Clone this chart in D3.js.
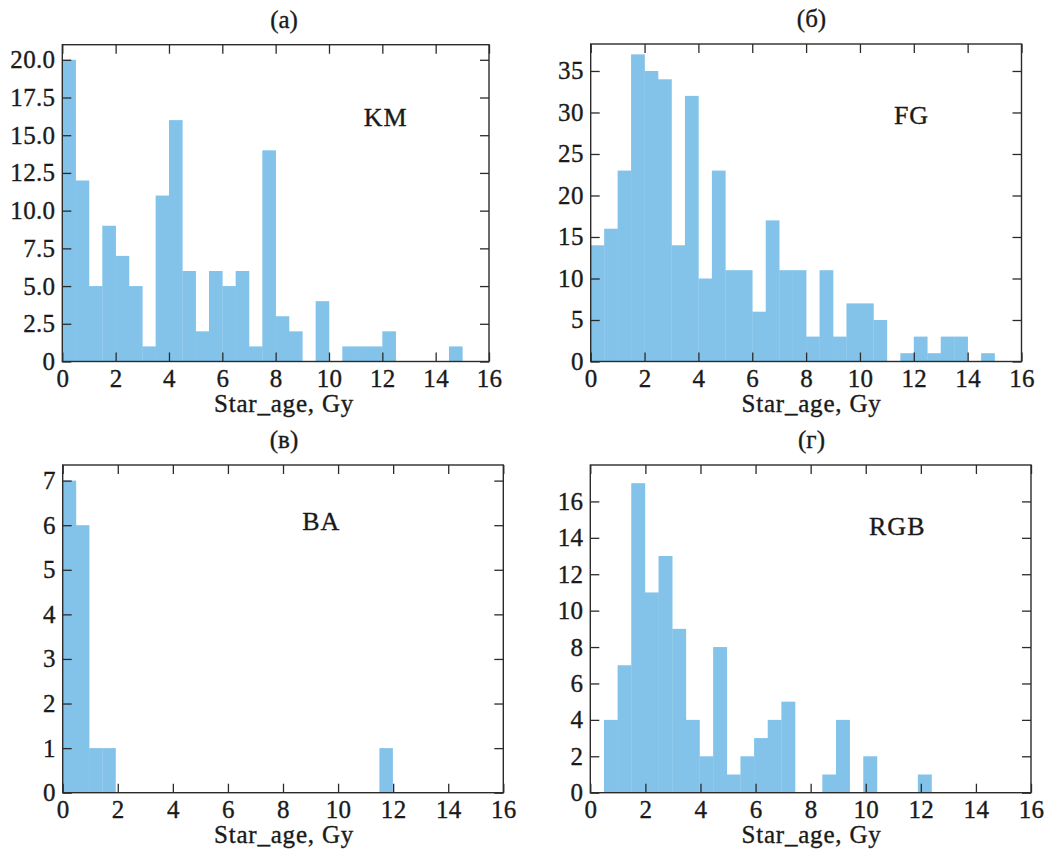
<!DOCTYPE html>
<html>
<head>
<meta charset="utf-8">
<script src="https://cdn.jsdelivr.net/npm/d3@7"></script>
<style>
  body { margin: 0; background: #fff; }
  svg { display: block; }
  svg text {
    font-family: 'Liberation Serif', 'Times New Roman', serif;
    fill: #1a1a1a;
    stroke: #1a1a1a;
    stroke-width: 0.35px;
  }
</style>
</head>
<body>
<div class="svg-container"></div>
<script>

// panel names and titles
const groups = ['KM', 'FG', 'BA', 'RGB'];
const titles = ['(а)', '(б)', '(в)', '(г)'];

// histogram counts
const kmCounts = [20, 12, 5, 9, 7, 5, 1, 11, 16, 6, 2, 6, 5, 6, 1, 14, 3, 2, 0, 4, 0, 1, 1, 1, 2, 0, 0, 0, 0, 1];
const fgCounts = [14, 16, 23, 37, 35, 34, 14, 32, 10, 23, 11, 11, 6, 17, 11, 11, 3, 11, 3, 7, 7, 5, 0, 1, 3, 1, 3, 3, 0, 1];
const baCounts = [7, 6, 1, 1, 0, 0, 0, 0, 0, 0, 0, 0, 0, 0, 0, 0, 0, 0, 0, 0, 0, 0, 0, 0, 1];
const rgbCounts = [4, 7, 17, 11, 13, 9, 4, 2, 8, 1, 2, 3, 4, 5, 0, 0, 1, 4, 0, 2, 0, 0, 0, 1];

// first bin edge and bin width (Gy) of each histogram
const binStart = [0, 0, 0, 0.496];
const binWidth = [0.5, 0.5, 0.4792, 0.4955];

// axis ranges and ticks
const xTicks = [0, 2, 4, 6, 8, 10, 12, 14, 16];
const yMax = [21, 38.25, 7.35, 18];
const kmTicks = [0, 2.5, 5, 7.5, 10, 12.5, 15, 17.5, 20];
const fgTicks = [0, 5, 10, 15, 20, 25, 30, 35];
const baTicks = [0, 1, 2, 3, 4, 5, 6, 7];
const rgbTicks = [0, 2, 4, 6, 8, 10, 12, 14, 16];

const xLabel = 'Star_age, Gy';

// put the pieces together per panel
const allCounts = [kmCounts, fgCounts, baCounts, rgbCounts];
const allTicks = [kmTicks, fgTicks, baTicks, rgbTicks];
const tickFormats = [
  d => d === 0 ? '0' : d3.format('.1f')(d),
  d3.format('d'), d3.format('d'), d3.format('d')
];

// pixel boxes of the four panels and where the group name sits (data coords)
const layout = [
  { left: 62.3, right: 489, top: 44.7, bottom: 361.5, cx: 284, nameX: 11.3, nameY: 15.6 },
  { left: 590.7, right: 1021.5, top: 44, bottom: 361.5, cx: 811.5, nameX: 11.26, nameY: 28.6 },
  { left: 62.7, right: 503.3, top: 465, bottom: 792.7, cx: 284, nameX: 8.7, nameY: 5.9 },
  { left: 590.3, right: 1031, top: 465, bottom: 792.7, cx: 811.5, nameX: 10.12, nameY: 14.17 }
];

const width = 1047;
const height = 851;
const barColour = '#83c3ea';
const inkColour = '#2b2b2b';
const fontSize = 25;
const tickLen = 9;

const svg = d3.select('.svg-container')
  .append('svg')
  .attr('width', width)
  .attr('height', height);

groups.forEach((name, i) => {
  const box = layout[i];
  const counts = allCounts[i];

  const x = d3.scaleLinear().domain([0, 16]).range([box.left, box.right]);
  const y = d3.scaleLinear().domain([0, yMax[i]]).range([box.bottom, box.top]);

  const g = svg.append('g');

  // histogram bars, one rect per non-empty bin
  const bins = counts.map((c, k) => ({
    x0: binStart[i] + k * binWidth[i],
    x1: binStart[i] + (k + 1) * binWidth[i],
    count: c
  })).filter(d => d.count > 0);

  g.selectAll('rect.bar')
    .data(bins)
    .enter()
    .append('rect')
    .attr('class', 'bar')
    .attr('x', d => x(d.x0))
    .attr('width', d => x(d.x1) - x(d.x0) + 0.3)
    .attr('y', d => y(d.count))
    .attr('height', d => y(0) - y(d.count))
    .attr('fill', barColour);

  // axes with inward ticks on all four sides
  const bottomAxis = d3.axisBottom(x).tickValues(xTicks).tickSizeInner(-tickLen).tickSizeOuter(0).tickPadding(8);
  const topAxis = d3.axisTop(x).tickValues(xTicks).tickSizeInner(-tickLen).tickSizeOuter(0).tickFormat('');
  const leftAxis = d3.axisLeft(y).tickValues(allTicks[i]).tickSizeInner(-tickLen).tickSizeOuter(0).tickPadding(7).tickFormat(tickFormats[i]);
  const rightAxis = d3.axisRight(y).tickValues(allTicks[i]).tickSizeInner(-tickLen).tickSizeOuter(0).tickFormat('');

  const axes = [
    g.append('g').attr('transform', `translate(0,${box.bottom})`).call(bottomAxis),
    g.append('g').attr('transform', `translate(0,${box.top})`).call(topAxis),
    g.append('g').attr('transform', `translate(${box.left},0)`).call(leftAxis),
    g.append('g').attr('transform', `translate(${box.right},0)`).call(rightAxis)
  ];

  axes.forEach(a => {
    a.attr('font-family', null);
    a.select('.domain').remove();
    a.selectAll('line').attr('stroke', inkColour).attr('stroke-width', 1.3);
    a.selectAll('text')
      .attr('font-size', fontSize)
      .attr('letter-spacing', 0.3);
  });

  // frame
  g.append('rect')
    .attr('x', box.left)
    .attr('y', box.top)
    .attr('width', box.right - box.left)
    .attr('height', box.bottom - box.top)
    .attr('fill', 'none')
    .attr('stroke', inkColour)
    .attr('stroke-width', 1.4);

  // panel title
  g.append('text')
    .attr('x', box.cx)
    .attr('y', box.top - 17)
    .attr('text-anchor', 'middle')
    .attr('font-size', fontSize)
    .text(titles[i]);

  // x axis label
  g.append('text')
    .attr('x', box.cx)
    .attr('y', box.bottom + 50)
    .attr('text-anchor', 'middle')
    .attr('font-size', fontSize)
    .attr('letter-spacing', 0.8)
    .text(xLabel);

  // group name inside the panel
  g.append('text')
    .attr('x', x(box.nameX))
    .attr('y', y(box.nameY))
    .attr('font-size', 26)
    .attr('letter-spacing', 1)
    .text(name);
});

</script>
</body>
</html>
